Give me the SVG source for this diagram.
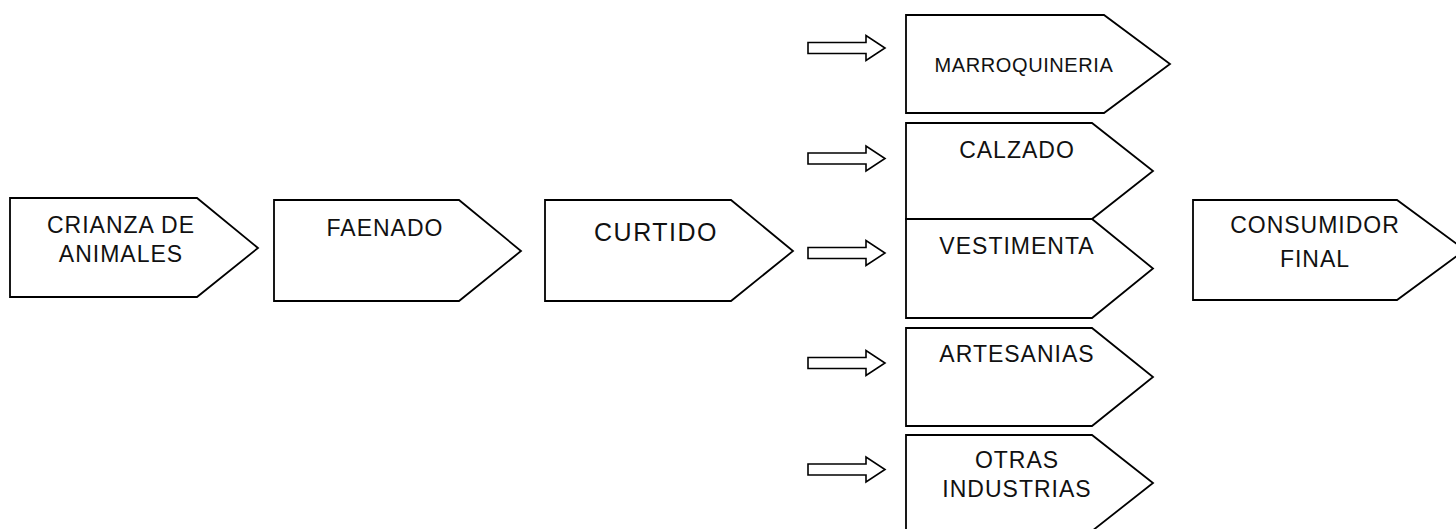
<svg xmlns="http://www.w3.org/2000/svg" width="1456" height="529" viewBox="0 0 1456 529">
<style>
.box{fill:#fff;stroke:#000;stroke-width:1.8;stroke-linejoin:miter}
.arr{fill:#fff;stroke:#000;stroke-width:1.6;stroke-linejoin:miter}
.t{font-family:"Liberation Sans",Arial,sans-serif;font-size:23px;letter-spacing:1px;fill:#111;text-anchor:middle}
</style>
<rect width="1456" height="529" fill="#fff"/>
<g id="connectors">
<path class="arr" d="M808,42.5 H866 V35.5 L885,48 L866,60.5 V53.5 H808 Z"/>
<path class="arr" d="M808,153 H866 V146 L885,158.5 L866,171 V164 H808 Z"/>
<path class="arr" d="M808,247.5 H866 V240.5 L885,253 L866,265.5 V258.5 H808 Z"/>
<path class="arr" d="M808,357.5 H866 V350.5 L885,363 L866,375.5 V368.5 H808 Z"/>
<path class="arr" d="M808,464 H866 V457 L885,469.5 L866,482 V475 H808 Z"/>
</g>
<g id="crianza">
<path class="box" d="M10,198 H197 L258,248 L197,297 H10 Z"/>
<text class="t" x="121" y="233">CRIANZA DE</text>
<text class="t" x="121" y="262">ANIMALES</text>
</g>
<g id="faenado">
<path class="box" d="M274,200 H459 L521,251 L459,301 H274 Z"/>
<text class="t" x="385" y="236">FAENADO</text>
</g>
<g id="curtido">
<path class="box" d="M545,200 H731 L793,251 L731,301 H545 Z"/>
<text class="t" x="656" y="241" style="font-size:25px;letter-spacing:1.5px">CURTIDO</text>
</g>
<g id="marroquineria">
<path class="box" d="M906,15 H1104 L1170,64 L1104,113 H906 Z"/>
<text class="t" x="1024" y="72" style="font-size:20px;letter-spacing:0.6px">MARROQUINERIA</text>
</g>
<g id="calzado">
<path class="box" d="M906,123 H1092 L1153,171 L1092,219 H906 Z"/>
<text class="t" x="1017" y="158">CALZADO</text>
</g>
<g id="vestimenta">
<path class="box" d="M906,219 H1092 L1153,268.5 L1092,318 H906 Z"/>
<text class="t" x="1017" y="254">VESTIMENTA</text>
</g>
<g id="artesanias">
<path class="box" d="M906,328 H1092 L1153,377 L1092,426 H906 Z"/>
<text class="t" x="1017" y="362">ARTESANIAS</text>
</g>
<g id="otras">
<path class="box" d="M906,435 H1092 L1153,483 L1092,531 H906 Z"/>
<text class="t" x="1017" y="468">OTRAS</text>
<text class="t" x="1017" y="497">INDUSTRIAS</text>
</g>
<g id="consumidor">
<path class="box" d="M1193,200 H1397 L1465,250 L1397,300 H1193 Z"/>
<text class="t" x="1315" y="233">CONSUMIDOR</text>
<text class="t" x="1315" y="266.5">FINAL</text>
</g>
</svg>
